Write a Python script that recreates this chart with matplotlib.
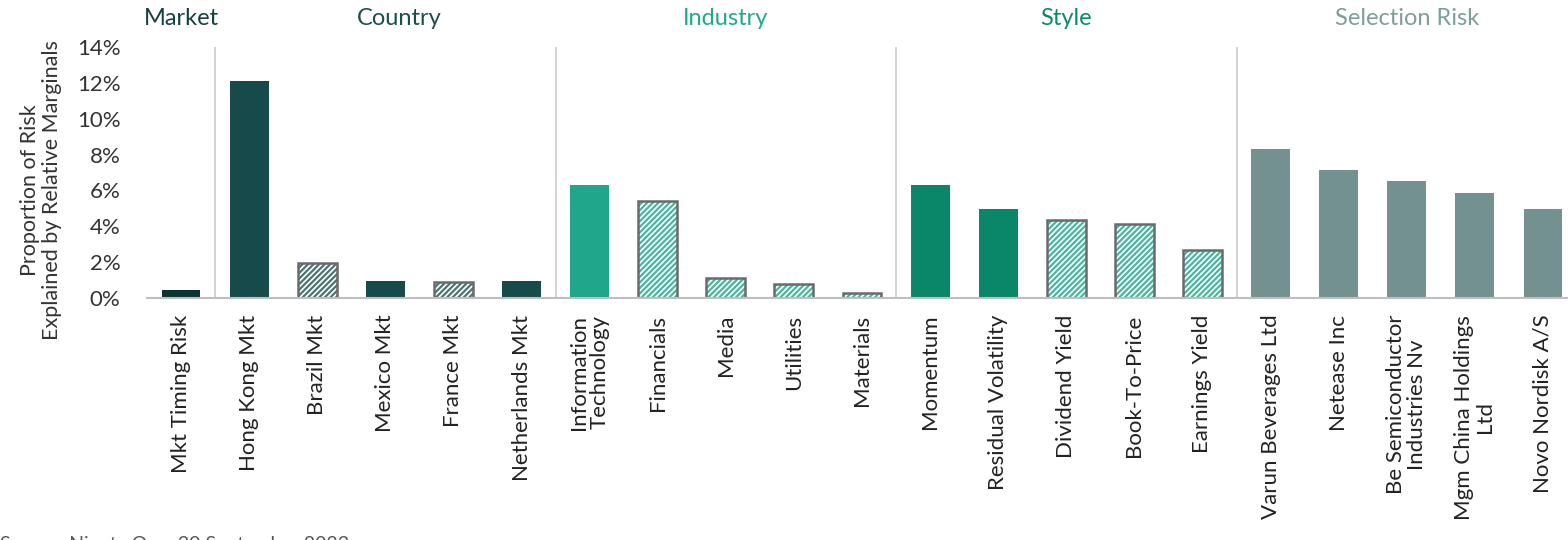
import numpy as np
import matplotlib.pyplot as plt
from matplotlib.ticker import FuncFormatter

# Factor exposures and their share of risk (%)
labels = ['Mkt Timing Risk', 'Hong Kong Mkt', 'Brazil Mkt', 'Mexico Mkt', 'France Mkt',
          'Netherlands Mkt', 'Information\nTechnology', 'Financials', 'Media', 'Utilities',
          'Materials', 'Momentum', 'Residual Volatility', 'Dividend Yield', 'Book-To-Price',
          'Earnings Yield', 'Varun Beverages Ltd', 'Netease Inc',
          'Be Semiconductor\nIndustries Nv', 'Mgm China Holdings\nLtd', 'Novo Nordisk A/S']
values = [0.45, 12.1, 1.95, 0.95, 0.9, 0.95, 6.3, 5.4, 1.1, 0.8, 0.3,
          6.3, 4.95, 4.35, 4.15, 2.7, 8.3, 7.15, 6.5, 5.85, 4.95]
groups = ['Market'] + ['Country'] * 5 + ['Industry'] * 5 + ['Style'] * 5 + ['Selection Risk'] * 5
# hatched bars = negative (underweight) exposures
negative = [False, False, True, False, True, False,
            False, True, True, True, True,
            False, False, True, True, True,
            False, False, False, False, False]

group_names = ['Market', 'Country', 'Industry', 'Style', 'Selection Risk']
bar_colors = {'Market': '#0b3331', 'Country': '#174a4a', 'Industry': '#20a68b',
              'Style': '#0a8769', 'Selection Risk': '#739190'}
title_colors = {'Market': '#173f3f', 'Country': '#1d4d4d', 'Industry': '#23a88d',
                'Style': '#0b8a6b', 'Selection Risk': '#7f9d9b'}
hatch_colors = {'Market': '#2f5f5f', 'Country': '#4a7474', 'Industry': '#45b7a0',
                'Style': '#45b7a0', 'Selection Risk': '#739190'}

plt.rcParams['font.family'] = ['Lato', 'DejaVu Sans']
plt.rcParams['hatch.linewidth'] = 1.6

fig = plt.figure(figsize=(15.68, 5.4), dpi=100)
ax = fig.add_axes([147 / 1568, 1 - 298 / 540, 1430 / 1568, 251 / 540])

x = np.arange(len(labels))
w = 0.57
for i in range(len(labels)):
    g = groups[i]
    if negative[i]:
        ax.bar(x[i], values[i], w, color='white', edgecolor=hatch_colors[g],
               hatch='//////', linewidth=0)
        ax.bar(x[i], values[i], w, fill=False, edgecolor='#6a6a6a', linewidth=1.8)
    else:
        ax.bar(x[i], values[i], w, color=bar_colors[g], linewidth=0)

# group separators and titles
bounds = [0]
for i in range(1, len(groups)):
    if groups[i] != groups[i - 1]:
        ax.axvline(i - 0.5, color='#cccccc', linewidth=1.2, zorder=0)
        bounds.append(i)
bounds.append(len(groups))
for k, name in enumerate(group_names):
    mid = (bounds[k] + bounds[k + 1] - 1) / 2
    if name == 'Country':
        mid += 0.2
    ax.text(mid, 1.115, name, transform=ax.get_xaxis_transform(), ha='center', va='center',
            fontsize=17, color=title_colors[name])

ax.set_xlim(-0.5, len(labels) - 0.5)
ax.set_ylim(0, 14)
ax.set_yticks(np.arange(0, 15, 2))
ax.yaxis.set_major_formatter(FuncFormatter(lambda v, p: f'{v:.0f}%'))
ax.set_xticks(x)
ax.set_xticklabels(labels, rotation=90, ha='center', va='top', multialignment='center',
                   fontsize=16, color='#222222', linespacing=1.05)
ax.tick_params(axis='x', length=0, pad=12)
ax.tick_params(axis='y', length=0, pad=19, labelsize=16, labelcolor='#333333')

for s in ['top', 'right', 'left']:
    ax.spines[s].set_visible(False)
ax.spines['bottom'].set_color('#bfbfbf')
ax.spines['bottom'].set_linewidth(1.5)

fig.text(41 / 1568, 1 - 190 / 540, 'Proportion of Risk\nExplained by Relative Marginals',
         rotation=90, ha='center', va='center', multialignment='center',
         fontsize=15.5, color='#333333', linespacing=1.15)

fig.text(0, 4 / 540, 'Source: Ninety One, 30 September 2023', ha='left', va='top',
         fontsize=14, color='#555555')

fig.savefig('out.png', dpi=100)
